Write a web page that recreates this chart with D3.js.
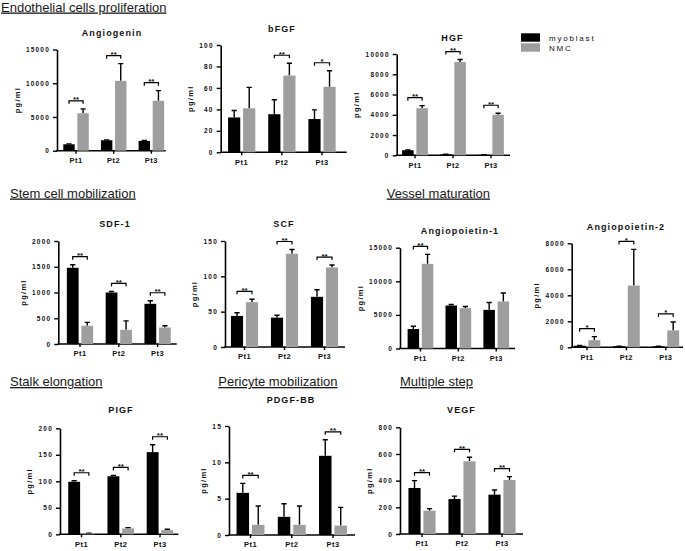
<!DOCTYPE html>
<html><head><meta charset="utf-8">
<script src="https://cdn.jsdelivr.net/npm/d3@7"></script>
<style>
body{margin:0;background:#fff;}
svg{display:block;font-family:"Liberation Sans",Arial,Helvetica,sans-serif;}
</style></head><body>
<svg id="chart" width="685" height="551"></svg>
<script>
// ---------- DATA ----------
const patients = ["Pt1","Pt2","Pt3"];
const seriesNames = ["myoblast","NMC"];
const seriesColors = ["#000000","#9e9e9e"];

const sectionTitles = ["Endothelial cells proliferation","Stem cell mobilization","Vessel maturation","Stalk elongation","Pericyte mobilization","Multiple step"];

// Angiogenin
const angiogeninTicks = [0,5000,10000,15000];
const angiogeninMyoblast = [950,1550,1450];
const angiogeninMyoblastErr = [60,60,80];
const angiogeninNMC = [5550,10350,7400];
const angiogeninNMCErr = [650,2550,1500];
const angiogeninStars = ["**","**","**"];
// bFGF
const bfgfTicks = [0,20,40,60,80,100];
const bfgfMyoblast = [32.5,35.5,31];
const bfgfMyoblastErr = [6.5,13.5,8.5];
const bfgfNMC = [41,71.5,61];
const bfgfNMCErr = [19.5,11.5,15];
const bfgfStars = ["","**","*"];
// HGF
const hgfTicks = [0,2000,4000,6000,8000,10000];
const hgfMyoblast = [500,100,50];
const hgfMyoblastErr = [30,20,10];
const hgfNMC = [4650,9200,4000];
const hgfNMCErr = [250,250,150];
const hgfStars = ["**","**","**"];
// SDF-1
const sdfTicks = [0,500,1000,1500,2000];
const sdfMyoblast = [1480,1000,780];
const sdfMyoblastErr = [60,20,60];
const sdfNMC = [355,275,320];
const sdfNMCErr = [65,175,35];
const sdfStars = ["**","**","**"];
// SCF
const scfTicks = [0,50,100,150];
const scfMyoblast = [44,41.5,71];
const scfMyoblastErr = [4.5,3.5,10];
const scfNMC = [63.5,132,112.5];
const scfNMCErr = [4,6,3.5];
const scfStars = ["**","**","**"];
// Angiopoietin-1
const ang1Ticks = [0,5000,10000,15000];
const ang1Myoblast = [2900,6400,5750];
const ang1MyoblastErr = [400,150,1100];
const ang1NMC = [12600,6000,7000];
const ang1NMCErr = [1400,250,1250];
const ang1Stars = ["**","",""];
// Angiopoietin-2
const ang2Ticks = [0,2000,4000,6000,8000];
const ang2Myoblast = [120,80,80];
const ang2MyoblastErr = [20,10,10];
const ang2NMC = [550,4750,1300];
const ang2NMCErr = [270,2780,650];
const ang2Stars = ["*","*","*"];
// PIGF
const pigfTicks = [0,50,100,150,200];
const pigfMyoblast = [99,109.5,155];
const pigfMyoblastErr = [2,1.5,14];
const pigfNMC = [1.5,11,8];
const pigfNMCErr = [0.5,1.5,1.5];
const pigfStars = ["**","**","**"];
// PDGF-BB
const pdgfTicks = [0,5,10,15];
const pdgfMyoblast = [5.8,2.5,10.9];
const pdgfMyoblastErr = [1.3,1.8,2.2];
const pdgfNMC = [1.4,1.4,1.3];
const pdgfNMCErr = [2.6,2.6,2.5];
const pdgfStars = ["**","","**"];
// VEGF
const vegfTicks = [0,200,400,600,800];
const vegfMyoblast = [345,262,295];
const vegfMyoblastErr = [55,22,35];
const vegfNMC = [175,545,405];
const vegfNMCErr = [15,30,25];
const vegfStars = ["**","**","**"];

// ---------- LAYOUT ----------
const svg = d3.select("#chart");

const sectionPos = [[1,11.5],[10,197.5],[386.7,197.5],[10,386],[218.3,386],[400,386]];

const panels = [
  {title:"Angiogenin", ticks:angiogeninTicks, myo:angiogeninMyoblast, myoErr:angiogeninMyoblastErr, nmc:angiogeninNMC, nmcErr:angiogeninNMCErr, stars:angiogeninStars,
   L:{ax:57, yT:49.5, yB:150.7, xE:165.7, b0:57.2, b1:170.2, tx:112, ty:36}},
  {title:"bFGF", ticks:bfgfTicks, myo:bfgfMyoblast, myoErr:bfgfMyoblastErr, nmc:bfgfNMC, nmcErr:bfgfNMCErr, stars:bfgfStars,
   L:{ax:220.7, yT:45, yB:152.3, xE:346.7, b0:221.6, b1:342.1, tx:282, ty:31.5}},
  {title:"HGF", ticks:hgfTicks, myo:hgfMyoblast, myoErr:hgfMyoblastErr, nmc:hgfNMC, nmcErr:hgfNMCErr, stars:hgfStars,
   L:{ax:396.7, yT:54, yB:155.3, xE:510, b0:396, b1:510, tx:452.5, ty:40.5}},
  {title:"SDF-1", ticks:sdfTicks, myo:sdfMyoblast, myoErr:sdfMyoblastErr, nmc:sdfNMC, nmcErr:sdfNMCErr, stars:sdfStars,
   L:{ax:58.3, yT:241, yB:344, xE:176.7, b0:60.6, b1:177, tx:115, ty:226.5}},
  {title:"SCF", ticks:scfTicks, myo:scfMyoblast, myoErr:scfMyoblastErr, nmc:scfNMC, nmcErr:scfNMCErr, stars:scfStars,
   L:{ax:225, yT:241, yB:347, xE:345, b0:224.5, b1:344.5, tx:284, ty:226.5}},
  {title:"Angiopoietin-1", ticks:ang1Ticks, myo:ang1Myoblast, myoErr:ang1MyoblastErr, nmc:ang1NMC, nmcErr:ang1NMCErr, stars:ang1Stars,
   L:{ax:400, yT:247.7, yB:348.5, xE:515, b0:401.5, b1:515.2, tx:460, ty:234}},
  {title:"Angiopoietin-2", ticks:ang2Ticks, myo:ang2Myoblast, myoErr:ang2MyoblastErr, nmc:ang2NMC, nmcErr:ang2NMCErr, stars:ang2Stars,
   L:{ax:571.7, yT:243.3, yB:347.3, xE:683, b0:567.3, b1:685.5, tx:626, ty:229.8}},
  {title:"PIGF", ticks:pigfTicks, myo:pigfMyoblast, myoErr:pigfMyoblastErr, nmc:pigfNMC, nmcErr:pigfNMCErr, stars:pigfStars,
   L:{ax:60, yT:428.3, yB:534.3, xE:178.3, b0:61.9, b1:179.6, tx:121, ty:413}},
  {title:"PDGF-BB", ticks:pdgfTicks, myo:pdgfMyoblast, myoErr:pdgfMyoblastErr, nmc:pdgfNMC, nmcErr:pdgfNMCErr, stars:pdgfStars,
   L:{ax:229, yT:426, yB:535, xE:355, b0:229.9, b1:353.6, tx:291, ty:402.5}},
  {title:"VEGF", ticks:vegfTicks, myo:vegfMyoblast, myoErr:vegfMyoblastErr, nmc:vegfNMC, nmcErr:vegfNMCErr, stars:vegfStars,
   L:{ax:400, yT:427.3, yB:534, xE:523, b0:402, b1:522, tx:461.5, ty:413}}
];

// section headers
svg.append("g").selectAll("text").data(sectionTitles).join("text")
  .attr("x",(d,i)=>sectionPos[i][0]).attr("y",(d,i)=>sectionPos[i][1])
  .attr("font-size",13).attr("fill","#1a1a1a")
  .style("text-decoration","underline")
  .text(d=>d);

function drawPanel(p){
  const L = p.L;
  const g = svg.append("g");
  const y = d3.scaleLinear().domain([0,d3.max(p.ticks)]).range([L.yB,L.yT]);
  const x = d3.scaleBand().domain(patients).range([L.b0,L.b1]).paddingInner(0).paddingOuter(0);
  const half = x.step()*0.339;
  const xs = d3.scaleBand().domain(seriesNames).range([-half,half]).paddingInner(0.19);
  const color = d3.scaleOrdinal().domain(seriesNames).range(seriesColors);

  // title
  g.append("text").attr("x",L.tx).attr("y",L.ty).attr("text-anchor","middle")
    .attr("font-size",9).attr("font-weight","bold").attr("letter-spacing",1.1)
    .attr("fill","#111").text(p.title);

  // y axis
  const gy = g.append("g").attr("transform",`translate(${L.ax},0)`)
    .call(d3.axisLeft(y).tickValues(p.ticks).tickSize(4).tickSizeOuter(0).tickPadding(3).tickFormat(d3.format("d")));
  gy.select(".domain").attr("stroke","#000").attr("stroke-width",1.6);
  gy.selectAll(".tick line").attr("stroke","#000").attr("stroke-width",1.4);
  gy.selectAll(".tick text").attr("font-size",6.5).attr("font-weight","bold")
    .attr("letter-spacing",1.2).attr("fill","#111").attr("font-family",null);
  gy.attr("font-family",null);

  // x axis
  const gx = g.append("g").attr("transform",`translate(0,${L.yB})`)
    .call(d3.axisBottom(x).tickSize(3).tickSizeOuter(0).tickPadding(4));
  gx.select(".domain").remove();
  gx.attr("font-family",null);
  gx.selectAll(".tick line").attr("stroke","#000").attr("stroke-width",1.4);
  gx.selectAll(".tick text").attr("font-size",7.5).attr("font-weight","bold")
    .attr("letter-spacing",0.5).attr("fill","#111");
  g.append("line").attr("x1",L.ax-0.8).attr("x2",L.xE).attr("y1",L.yB).attr("y2",L.yB)
    .attr("stroke","#000").attr("stroke-width",1.6);

  // y label
  const bb = gy.node().getBBox();
  const lx = L.ax + bb.x - 9;
  g.append("text").attr("transform",`translate(${lx},${(L.yT+L.yB)/2}) rotate(-90)`)
    .attr("text-anchor","middle").attr("dy","0.35em")
    .attr("font-size",7.5).attr("font-weight","bold").attr("letter-spacing",1.3)
    .attr("fill","#111").text("pg/ml");

  // data rows
  const rows = patients.map((pt,i)=>({pt, i, items:[
    {s:"myoblast", v:p.myo[i], e:p.myoErr[i]},
    {s:"NMC", v:p.nmc[i], e:p.nmcErr[i]}]}));

  const grp = g.append("g").selectAll("g").data(rows).join("g")
    .attr("transform",d=>`translate(${x(d.pt)+x.bandwidth()/2},0)`);

  // error bars
  grp.selectAll("path.err").data(d=>d.items).join("path").attr("class","err")
    .attr("d",d=>{
      const cx = xs(d.s)+xs.bandwidth()/2;
      const yt = y(d.v+d.e);
      return `M${cx},${y(d.v)}V${yt}M${cx-2.6},${yt}H${cx+2.6}`;
    })
    .attr("stroke","#000").attr("stroke-width",1.4).attr("fill","none");

  grp.selectAll("rect").data(d=>d.items).join("rect")
    .attr("x",d=>xs(d.s)).attr("width",xs.bandwidth())
    .attr("y",d=>y(d.v)).attr("height",d=>Math.max(0.8,L.yB-y(d.v)))
    .attr("fill",d=>color(d.s));

  // significance brackets
  const sig = grp.filter(d=>p.stars[d.i]!=="");
  sig.append("path").attr("d",d=>{
      const top = Math.min(...d.items.map(it=>y(it.v+it.e))) - 8;
      const x1 = xs("myoblast")+xs.bandwidth()/2, x2 = xs("NMC")+xs.bandwidth()/2;
      return `M${x1},${top+3}V${top}H${x2}V${top+3}`;
    }).attr("stroke","#000").attr("stroke-width",1.2).attr("fill","none");
  sig.append("text").attr("text-anchor","middle")
    .attr("x",0)
    .attr("y",d=>Math.min(...d.items.map(it=>y(it.v+it.e))) - 8 + 1.5)
    .attr("font-size",8).attr("font-weight","bold").attr("fill","#111")
    .text(d=>p.stars[d.i]);
}
panels.forEach(drawPanel);

// legend
const lg = svg.append("g");
lg.selectAll("rect").data(seriesNames).join("rect")
  .attr("x",521).attr("y",(d,i)=>33.3+i*10).attr("width",19).attr("height",8.4)
  .attr("fill",(d,i)=>seriesColors[i]);
lg.selectAll("text").data(seriesNames).join("text")
  .attr("x",549).attr("y",(d,i)=>40.5+i*10.6)
  .attr("font-size",8).attr("letter-spacing",1.8).attr("fill","#111")
  .text(d=>d);
</script>
</body></html>
